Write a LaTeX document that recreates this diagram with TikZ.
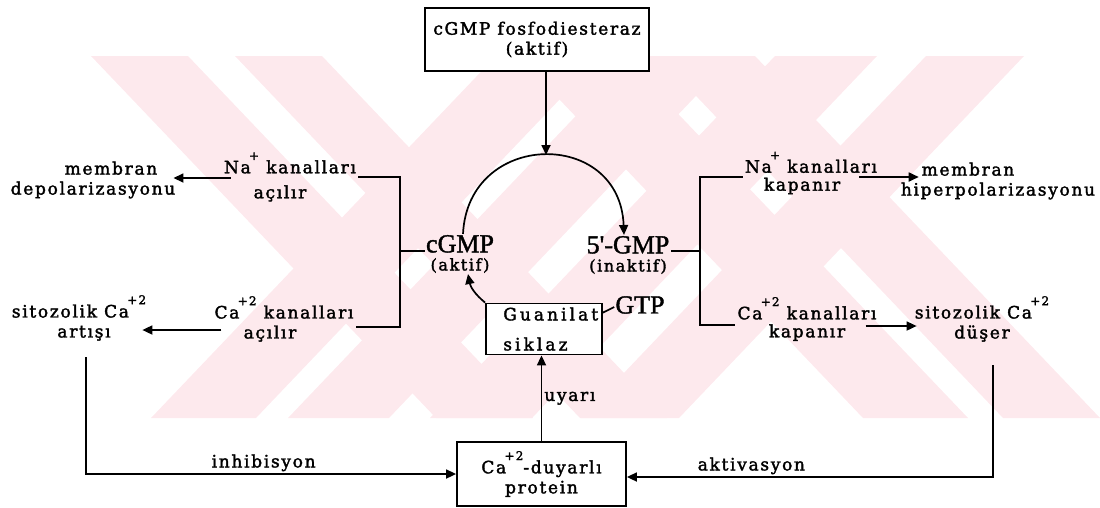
\documentclass[tikz,border=0pt]{standalone}
\usepackage{fontspec}
\setmainfont{DejaVu Serif}
\newfontfamily\dfont[LetterSpace=10,FakeBold=2]{DejaVu Serif}
\newfontfamily\wfont[LetterSpace=18,FakeBold=2]{DejaVu Serif}
\newfontfamily\gfont[FakeBold=1.5]{Liberation Serif}
\usetikzlibrary{arrows.meta,calc}
\definecolor{wm}{RGB}{253,233,237}
\newcommand\upc[2][0.1em]{\kern-#1\raisebox{0.78em}{\fontsize{12}{12}\selectfont #2}}
\begin{document}
\begin{tikzpicture}[x=1pt,y=-1pt,
  txt/.style={font=\dfont\fontsize{17}{20}\selectfont, align=center, inner sep=2pt},
  gmp/.style={font=\gfont\fontsize{26}{26}\selectfont, inner sep=1pt},
  boxn/.style={draw, line width=1.8pt, fill=white},
  ln/.style={line width=1.7pt},
  arr/.style={ln, -{Triangle[length=10pt,width=9pt]}}]
\useasboundingbox (0,0) rectangle (1100,507);
% watermark
\fill[wm] (91,56) -- (188,56) -- (533,418) -- (436,418) -- cycle;
\fill[wm] (235,56) -- (322,56) -- (667,418) -- (580,418) -- cycle;
\fill[wm] (151,418) -- (256,418) -- (601,56) -- (496,56) -- cycle;
\fill[wm] (288,418) -- (389,418) -- (734,56) -- (633,56) -- cycle;
\fill[wm] (775,56) -- (877,56) -- (532,418) -- (430,418) -- cycle;
\fill[wm] (926,56) -- (1024,56) -- (679,418) -- (581,418) -- cycle;
\fill[wm] (863,418) -- (968,418) -- (623,56) -- (518,56) -- cycle;
\fill[wm] (1003,418) -- (1100,418) -- (755,56) -- (658,56) -- cycle;

% boxes
\node[boxn, txt, minimum width=224pt, minimum height=63pt] (pde) at (537,39.5) {cGMP fosfodiesteraz\\(aktif)};
\node[boxn, minimum width=116pt, minimum height=51pt, inner sep=0pt] (gc) at (544,329) {};
\node[txt, anchor=west, align=left, font=\wfont\fontsize{17}{30}\selectfont] (gct) at ([xshift=16pt]gc.west) {Guanilat\\siklaz};
\node[boxn, txt, minimum width=169pt, minimum height=64pt] (cp) at (541.5,474) {Ca\upc{+2}-duyarlı\\protein};

% central labels
\node[gmp, align=center] (cg) at (460,254) {cGMP\\[-8pt]{\dfont\fontsize{16}{16}\selectfont (aktif)}};
\node[gmp, align=center] (gm) at (628,255) {5\textquotesingle-GMP\\[-8pt]{\dfont\fontsize{16}{16}\selectfont (inaktif)}};
\node[gmp] (gtp) at (640,305) {GTP};

% side texts
\node[txt] (nao) at (290,177) {Na\upc{+} kanalları\\[5pt]açılır\hspace*{20pt}};
\node[txt] (mdep) at (93,180) {\hspace*{36pt}membran\\depolarizasyonu};
\node[txt] (cao) at (284,319) {Ca\upc{+2} kanalları\\açılır\hspace*{28pt}};
\node[txt] (sal) at (79,318) {sitozolik Ca\upc{+2}\\\hspace*{10pt}artışı};
\node[txt] (nak) at (811,173) {Na\upc{+} kanalları\\[-2pt]kapanır\hspace*{18pt}};
\node[txt] (mhip) at (998,181) {membran\hspace*{60pt}\\hiperpolarizasyonu};
\node[txt] (cak) at (807,319) {Ca\upc{+2} kanalları\\[-2pt]kapanır};
\node[txt] (sdu) at (982,319) {sitozolik Ca\upc{+2}\\düşer};

% central connectors
\coordinate (apex) at (546,155);
\draw[arr] (pde.south -| apex) -- (apex);
\draw[arr] ([xshift=3pt]cg.north) .. controls (468,130) and (620,128) .. ([xshift=-4pt]gm.north);
\draw[arr] (gc.north west) to[bend left=20] ([xshift=8pt]cg.south);
\draw[arr] (cp.north) -- node[midway, right, txt] (uy) {uyarı} (cp.north |- gc.south);
\draw[ln] ([yshift=-2pt]gtp.west) -- ([yshift=-10pt]gc.north east);

% brackets
\coordinate (lt) at (400,177); \coordinate (lb) at (400,327); \coordinate (lm) at (400,251);
\draw[ln] (nao.east |- lt) -- (lt) -- (lb) -- (cao.east |- lb);
\draw[ln] (lm) -- (cg.west |- lm);
\coordinate (rt) at (700,177); \coordinate (rb) at (700,325); \coordinate (rm) at (700,251);
\draw[ln] (nak.west |- rt) -- (rt) -- (rb) -- (cak.west |- rb);
\draw[ln] (rm) -- (gm.east |- rm);

% side arrows
\coordinate (yNa) at (0,178);
\draw[arr] ($(nao.west |- yNa)+(9,0)$) -- ($(mdep.east |- yNa)+(-4,0)$);
\coordinate (yCa) at (0,330);
\draw[arr] ($(cao.west |- yCa)+(9,0)$) -- ($(sal.east |- yCa)+(-6,0)$);
\coordinate (yNk) at (0,177);
\draw[arr] ($(nak.east |- yNk)+(-20,0)$) -- ($(mhip.west |- yNk)+(20,0)$);
\coordinate (yCk) at (0,326);
\draw[arr] ($(cak.east |- yCk)+(-13,0)$) -- ($(sdu.west |- yCk)+(4,0)$);

% feedback
\coordinate (lv) at (86,357);
\draw[arr] (lv) |- node[pos=0.74, above, txt] (inh) {inhibisyon} (cp.west);
\coordinate (rv) at (993,365);
\draw[arr] (rv) |- node[pos=0.83, above, txt] (akt) {aktivasyon} ($(cp.east)+(0,3)$);
\end{tikzpicture}
\end{document}
